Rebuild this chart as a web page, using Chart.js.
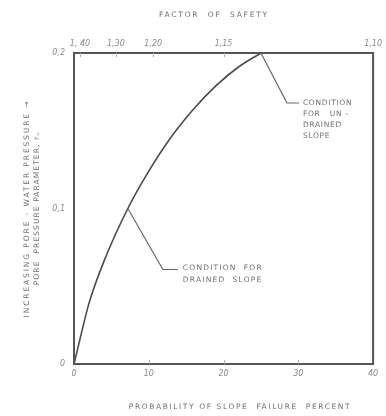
<!DOCTYPE html>
<html><head><meta charset="utf-8">
<script src="https://cdn.jsdelivr.net/npm/chart.js@4/dist/chart.umd.min.js"></script>
<style>html,body{margin:0;padding:0;background:#fff}canvas{display:block}</style>
</head><body>
<canvas id="c" width="386" height="416"></canvas>
<script>
// ---- data ----
const probabilityPct = [0, 1, 2, 4, 7.2, 10, 13, 16, 19, 22, 25];
const poreParam      = [0, 0.020, 0.039, 0.066, 0.100, 0.124, 0.146, 0.164, 0.179, 0.191, 0.200];
const xTicks = [0, 10, 20, 30, 40];
const xTickLabels = ['0', '10', '20', '30', '40'];
const yTicks = [0, 0.1, 0.2];
const yTickLabels = ['0', '0,1', '0,2'];
const fosTickPos = [0.8, 5.6, 10.6, 20, 40];
const fosTickLabels = ['1, 40', '1,30', '1,20', '1,15', '1,10'];
const xTitle = 'PROBABILITY OF SLOPE  FAILURE  PERCENT';
const topTitle = 'FACTOR  OF  SAFETY';
const yTitle = ['INCREASING PORE - WATER PRESSURE \u2192', 'PORE  PRESSURE PARAMETER, r\u1d64'];
const undrainedLabel = ['CONDITION', 'FOR   UN -', 'DRAINED', 'SLOPE'];
const drainedLabel = ['CONDITION  FOR', 'DRAINED  SLOPE'];
const undrainedAt = [25, 0.2];
const drainedAt = [7.2, 0.1];

const tickFont = {family: '"DejaVu Sans"', size: 8, style: 'italic'};
const tickColor = '#8a8a8a';

const decor = {
  id: 'decor',
  afterDraw(chart) {
    const {ctx, chartArea: a, scales} = chart;
    ctx.save();
    // frame
    ctx.strokeStyle = '#555'; ctx.lineWidth = 2;
    ctx.strokeRect(a.left, a.top, a.right - a.left, a.bottom - a.top);
    // small inside ticks
    ctx.strokeStyle = '#b0b0b0'; ctx.lineWidth = 1;
    xTicks.slice(1, -1).forEach(v => {
      const px = Math.round(scales.x.getPixelForValue(v)) + 0.5;
      ctx.beginPath(); ctx.moveTo(px, a.bottom); ctx.lineTo(px, a.bottom - 4); ctx.stroke();
    });
    fosTickPos.slice(0, -1).forEach(v => {
      const px = Math.round(scales.x2.getPixelForValue(v)) + 0.5;
      ctx.beginPath(); ctx.moveTo(px, a.top); ctx.lineTo(px, a.top + 4); ctx.stroke();
    });
    // titles
    ctx.fillStyle = '#6f6f6f';
    ctx.textAlign = 'center'; ctx.textBaseline = 'middle';
    ctx.font = '7.5px "DejaVu Sans"';
    ctx.letterSpacing = '1.8px';
    ctx.fillText(topTitle, a.left + 140, 15);
    ctx.letterSpacing = '1.6px';
    ctx.fillText(xTitle, a.left + 166, 407);
    ctx.save();
    ctx.translate(27, (a.top + a.bottom) / 2);
    ctx.rotate(-Math.PI / 2);
    ctx.letterSpacing = '1.9px';
    ctx.fillText(yTitle[0], 0, 0);
    ctx.letterSpacing = '1.1px';
    ctx.fillText(yTitle[1], 0, 10);
    ctx.restore();
    // annotations with leader lines
    ctx.strokeStyle = '#666'; ctx.lineWidth = 1.2;
    const u = [scales.x.getPixelForValue(undrainedAt[0]), scales.y.getPixelForValue(undrainedAt[1])];
    ctx.beginPath(); ctx.moveTo(u[0], u[1]); ctx.lineTo(u[0] + 26, u[1] + 50); ctx.lineTo(u[0] + 38, u[1] + 50); ctx.stroke();
    const d = [scales.x.getPixelForValue(drainedAt[0]), scales.y.getPixelForValue(drainedAt[1])];
    ctx.beginPath(); ctx.moveTo(d[0], d[1]); ctx.lineTo(d[0] + 35, d[1] + 61); ctx.lineTo(d[0] + 50, d[1] + 61); ctx.stroke();
    ctx.textAlign = 'left';
    ctx.font = '7.5px "DejaVu Sans"';
    ctx.letterSpacing = '0.7px';
    undrainedLabel.forEach((t, i) => ctx.fillText(t, u[0] + 42, u[1] + 50 + i * 11));
    ctx.letterSpacing = '1.2px';
    drainedLabel.forEach((t, i) => ctx.fillText(t, d[0] + 55, d[1] + 60 + i * 12));
    ctx.restore();
  }
};

new Chart(document.getElementById('c'), {
  type: 'scatter',
  data: {
    datasets: [{
      data: probabilityPct.map((x, i) => ({x, y: poreParam[i]})),
      showLine: true,
      borderColor: '#4a4a4a',
      borderWidth: 1.6,
      pointRadius: 0,
      cubicInterpolationMode: 'monotone',
      fill: false
    }]
  },
  options: {
    responsive: false,
    animation: false,
    events: [],
    layout: {padding: {left: 0, right: 10, top: 0, bottom: 0}},
    plugins: {legend: {display: false}, tooltip: {enabled: false}},
    scales: {
      x: {
        type: 'linear', position: 'bottom', min: 0, max: 40,
        afterBuildTicks: s => { s.ticks = xTicks.map(v => ({value: v})); },
        afterFit: s => { s.height = 52; },
        grid: {display: false, drawTicks: false},
        border: {display: false},
        ticks: {padding: 5, font: tickFont, color: tickColor, autoSkip: false, maxRotation: 0,
          callback: (v, i) => xTickLabels[i]}
      },
      x2: {
        type: 'linear', position: 'top', min: 0, max: 40,
        afterBuildTicks: s => { s.ticks = fosTickPos.map(v => ({value: v})); },
        afterFit: s => { s.height = 53; },
        grid: {display: false, drawTicks: false},
        border: {display: false},
        ticks: {padding: 4, font: tickFont, color: tickColor, autoSkip: false, maxRotation: 0,
          callback: (v, i) => fosTickLabels[i]}
      },
      y: {
        type: 'linear', position: 'left', min: 0, max: 0.2,
        afterBuildTicks: s => { s.ticks = yTicks.map(v => ({value: v})); },
        afterFit: s => { s.width = 74; },
        grid: {display: false, drawTicks: false},
        border: {display: false},
        ticks: {padding: 9, font: tickFont, color: tickColor, autoSkip: false,
          callback: (v, i) => yTickLabels[i]}
      }
    }
  },
  plugins: [decor]
});
</script>
</body></html>
